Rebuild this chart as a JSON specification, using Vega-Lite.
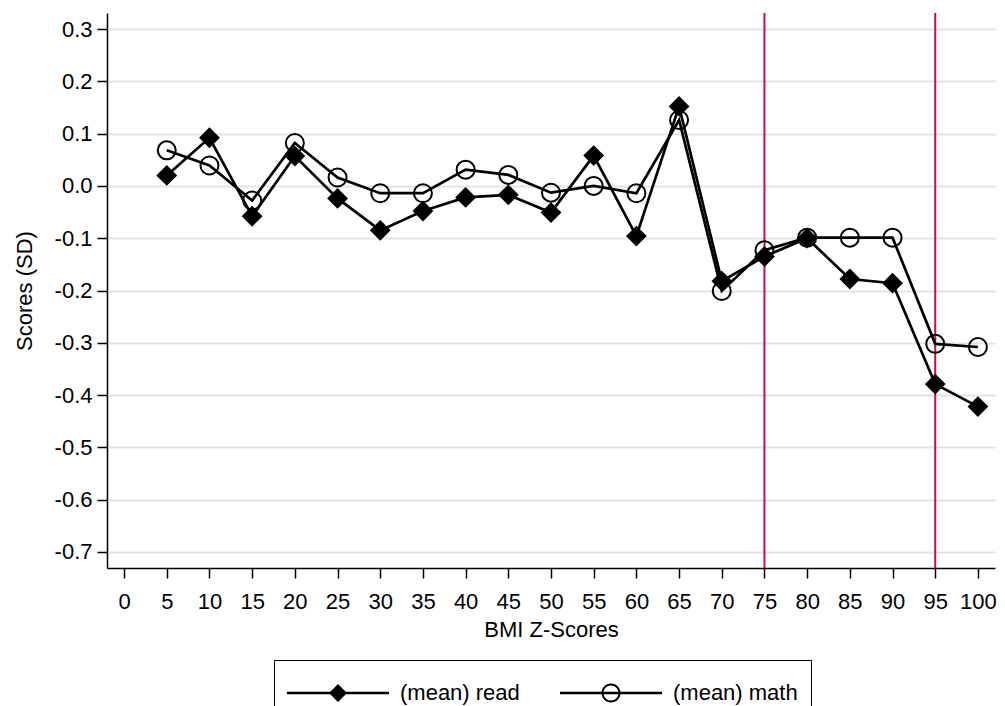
{
  "$schema": "https://vega.github.io/schema/vega-lite/v6.json",
  "width": 888,
  "height": 555,
  "autosize": {"type": "none"},
  "padding": {"left": 107, "top": 13, "right": 10, "bottom": 138},
  "background": "white",
  "config": {
    "view": {"stroke": null},
    "font": "Liberation Sans",
    "axis": {
      "labelFont": "Liberation Sans",
      "titleFont": "Liberation Sans",
      "labelFontSize": 22,
      "titleFontSize": 22,
      "titleFontWeight": "normal",
      "labelColor": "black",
      "titleColor": "black",
      "domainColor": "black",
      "domainWidth": 1.5,
      "tickColor": "black",
      "tickWidth": 1.5,
      "tickSize": 10
    },
    "legend": {
      "labelFont": "Liberation Sans",
      "labelFontSize": 22,
      "labelColor": "black"
    }
  },
  "datasets": {
    "scores": [
      {"bmi": 5, "series": "(mean) read", "score": 0.020},
      {"bmi": 10, "series": "(mean) read", "score": 0.092},
      {"bmi": 15, "series": "(mean) read", "score": -0.058},
      {"bmi": 20, "series": "(mean) read", "score": 0.057},
      {"bmi": 25, "series": "(mean) read", "score": -0.024},
      {"bmi": 30, "series": "(mean) read", "score": -0.085},
      {"bmi": 35, "series": "(mean) read", "score": -0.048},
      {"bmi": 40, "series": "(mean) read", "score": -0.022},
      {"bmi": 45, "series": "(mean) read", "score": -0.017},
      {"bmi": 50, "series": "(mean) read", "score": -0.051},
      {"bmi": 55, "series": "(mean) read", "score": 0.058},
      {"bmi": 60, "series": "(mean) read", "score": -0.096},
      {"bmi": 65, "series": "(mean) read", "score": 0.152},
      {"bmi": 70, "series": "(mean) read", "score": -0.182},
      {"bmi": 75, "series": "(mean) read", "score": -0.135},
      {"bmi": 80, "series": "(mean) read", "score": -0.100},
      {"bmi": 85, "series": "(mean) read", "score": -0.178},
      {"bmi": 90, "series": "(mean) read", "score": -0.186},
      {"bmi": 95, "series": "(mean) read", "score": -0.379},
      {"bmi": 100, "series": "(mean) read", "score": -0.422},
      {"bmi": 5, "series": "(mean) math", "score": 0.068},
      {"bmi": 10, "series": "(mean) math", "score": 0.039},
      {"bmi": 15, "series": "(mean) math", "score": -0.028},
      {"bmi": 20, "series": "(mean) math", "score": 0.082},
      {"bmi": 25, "series": "(mean) math", "score": 0.016},
      {"bmi": 30, "series": "(mean) math", "score": -0.014},
      {"bmi": 35, "series": "(mean) math", "score": -0.014},
      {"bmi": 40, "series": "(mean) math", "score": 0.031},
      {"bmi": 45, "series": "(mean) math", "score": 0.021},
      {"bmi": 50, "series": "(mean) math", "score": -0.013},
      {"bmi": 55, "series": "(mean) math", "score": 0.000},
      {"bmi": 60, "series": "(mean) math", "score": -0.014},
      {"bmi": 65, "series": "(mean) math", "score": 0.126},
      {"bmi": 70, "series": "(mean) math", "score": -0.201},
      {"bmi": 75, "series": "(mean) math", "score": -0.123},
      {"bmi": 80, "series": "(mean) math", "score": -0.099},
      {"bmi": 85, "series": "(mean) math", "score": -0.099},
      {"bmi": 90, "series": "(mean) math", "score": -0.099},
      {"bmi": 95, "series": "(mean) math", "score": -0.302},
      {"bmi": 100, "series": "(mean) math", "score": -0.308}
    ],
    "cuts": [{"bmi": 75}, {"bmi": 95}]
  },
  "resolve": {"scale": {"shape": "independent"}},
  "layer": [
    {
      "data": {"name": "cuts"},
      "mark": {"type": "rule", "color": "#c8103e", "strokeWidth": 2},
      "encoding": {
        "x": {"field": "bmi", "type": "quantitative"}
      }
    },
    {
      "data": {"name": "scores"},
      "mark": {"type": "line", "color": "black", "strokeWidth": 2.7},
      "encoding": {
        "x": {
          "field": "bmi", "type": "quantitative",
          "scale": {"domain": [-2, 102], "nice": false, "zero": false},
          "axis": {
            "title": "BMI Z-Scores",
            "values": [0,5,10,15,20,25,30,35,40,45,50,55,60,65,70,75,80,85,90,95,100],
            "grid": false,
            "labelPadding": 13,
            "titlePadding": 7,
            "labelFlush": false,
            "labelOverlap": false
          }
        },
        "y": {
          "field": "score", "type": "quantitative",
          "scale": {"domain": [-0.7306, 0.3306], "nice": false, "zero": false},
          "axis": {
            "title": "Scores (SD)",
            "values": [-0.7,-0.6,-0.5,-0.4,-0.3,-0.2,-0.1,0,0.1,0.2,0.3],
            "labelExpr": "replace(format(datum.value, '.1f'), '\u2212', '-')",
            "grid": true,
            "gridColor": "#e3e3e3",
            "gridWidth": 2,
            "labelPadding": 5,
            "titlePadding": 18,
            "labelFlush": false,
            "labelOverlap": false
          }
        },
        "detail": {"field": "series"}
      }
    },
    {
      "data": {"name": "scores"},
      "mark": {"type": "point", "filled": true, "stroke": "black", "strokeWidth": 2, "size": 324, "opacity": 1},
      "encoding": {
        "x": {"field": "bmi", "type": "quantitative"},
        "y": {"field": "score", "type": "quantitative"},
        "fill": {
          "condition": {"test": "datum.series == '(mean) read'", "value": "black"},
          "value": "transparent"
        },
        "shape": {
          "field": "series", "type": "nominal",
          "scale": {"domain": ["(mean) read", "(mean) math"], "range": ["diamond", "circle"]},
          "legend": null
        }
      }
    },
    {
      "data": {"name": "scores"},
      "mark": {"type": "point", "filled": true, "color": "black", "size": 1600, "opacity": 0},
      "encoding": {
        "x": {"field": "bmi", "type": "quantitative"},
        "y": {"field": "score", "type": "quantitative"},
        "shape": {
          "field": "series", "type": "nominal",
          "scale": {
            "domain": ["(mean) read", "(mean) math"],
            "range": [
              "M-1,-0.065H4.1V0.065H-1ZM1.1,0L1.55,-0.45L2,0L1.55,0.45Z",
              "M-1,-0.065H4.1V0.065H-1ZM2.025,0A0.475,0.475,0,1,1,1.075,0A0.475,0.475,0,1,1,2.025,0ZM1.925,0A0.375,0.375,0,1,0,1.175,0A0.375,0.375,0,1,0,1.925,0Z"
            ]
          },
          "legend": {
            "title": null,
            "orient": "none",
            "legendX": 167,
            "legendY": 647,
            "direction": "horizontal",
            "columns": 2,
            "strokeColor": "black",
            "fillColor": "white",
            "padding": 13,
            "symbolSize": 1600,
            "symbolOpacity": 1,
            "symbolFillColor": "black",
            "symbolStrokeWidth": 0,
            "labelOffset": 73,
            "columnPadding": 40,
            "labelFontSize": 22
          }
        }
      }
    }
  ]
}
